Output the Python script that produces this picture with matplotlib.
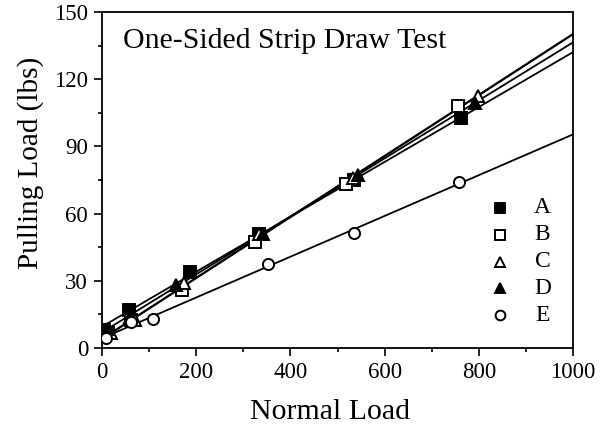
import numpy as np
import matplotlib
matplotlib.use("Agg")
import matplotlib.pyplot as plt
from matplotlib.ticker import MultipleLocator

plt.rcParams['font.family'] = ['Liberation Serif', 'DejaVu Serif']

series_names = ["A", "B", "C", "D", "E"]
x_A = [5, 58, 186, 334, 536, 763]
y_A = [8.2, 17, 34, 51, 75, 102.5]
x_B = [12, 62, 170, 324, 518, 756]
y_B = [6.7, 12.6, 26, 47.5, 73.4, 107.9]
x_C = [20, 70, 175, 334, 533, 798]
y_C = [6.5, 12.5, 29, 51, 76, 112.5]
x_D = [10, 60, 157, 341, 543, 791]
y_D = [8.5, 14, 28, 51, 77, 109.5]
x_E = [8, 62, 108, 352, 536, 758]
y_E = [4.5, 11.5, 13, 37.4, 51.5, 74]

xs = [x_A, x_B, x_C, x_D, x_E]
ys = [y_A, y_B, y_C, y_D, y_E]
markers = ["s", "s", "^", "^", "o"]
filled = [True, False, False, True, False]

fig = plt.figure(figsize=(6.0, 4.29), dpi=100)
ax = fig.add_axes([0.170, 0.189, 0.785, 0.783])

xfit = np.array([0, 1000])
for x, y in zip(xs, ys):
    k, b = np.polyfit(x, y, 1)
    ax.plot(xfit, k * xfit + b, color="black", lw=1.3, zorder=2)

for x, y, m, f in zip(xs, ys, markers, filled):
    ax.plot(x, y, linestyle="none", marker=m, markersize=8,
            markerfacecolor="black" if f else "white",
            markeredgecolor="black", markeredgewidth=1.4, zorder=3)

# legend drawn in axes coordinates (no frame)
for i, (name, m, f) in enumerate(zip(series_names, markers, filled)):
    yy = 1 - (196 + 26.8 * i) / 336
    ax.plot(0.845, yy, transform=ax.transAxes,
            linestyle="none", marker=m, markersize=7,
            markerfacecolor="black" if f else "white",
            markeredgecolor="black", markeredgewidth=1.4, clip_on=False)
    ax.text(0.935, yy, name, transform=ax.transAxes,
            ha="center", va="center", fontsize=17)

ax.text(0.045, 0.915, "One-Sided Strip Draw Test", transform=ax.transAxes,
        fontsize=21.5, ha="left", va="center")

ax.set_xlim(0, 1000)
ax.set_ylim(0, 150)
ax.xaxis.set_major_locator(MultipleLocator(200))
ax.xaxis.set_minor_locator(MultipleLocator(100))
ax.yaxis.set_major_locator(MultipleLocator(30))
ax.yaxis.set_minor_locator(MultipleLocator(15))
ax.tick_params(which="both", direction="out", width=1.2, labelsize=16.5,
               top=False, right=False)
ax.tick_params(which="major", length=6, pad=4)
ax.tick_params(which="minor", length=3)
for s in ax.spines.values():
    s.set_linewidth(1.3)

ax.set_xlabel("Normal Load", fontsize=21.5)
ax.set_ylabel("Pulling Load (lbs)", fontsize=21)
ax.xaxis.set_label_coords(0.485, -0.19, transform=ax.transAxes)
ax.yaxis.set_label_coords(-0.152, 0.55, transform=ax.transAxes)
ax.xaxis.label.set_va("center")
ax.yaxis.label.set_va("center")

fig.savefig("out.png", dpi=100)
